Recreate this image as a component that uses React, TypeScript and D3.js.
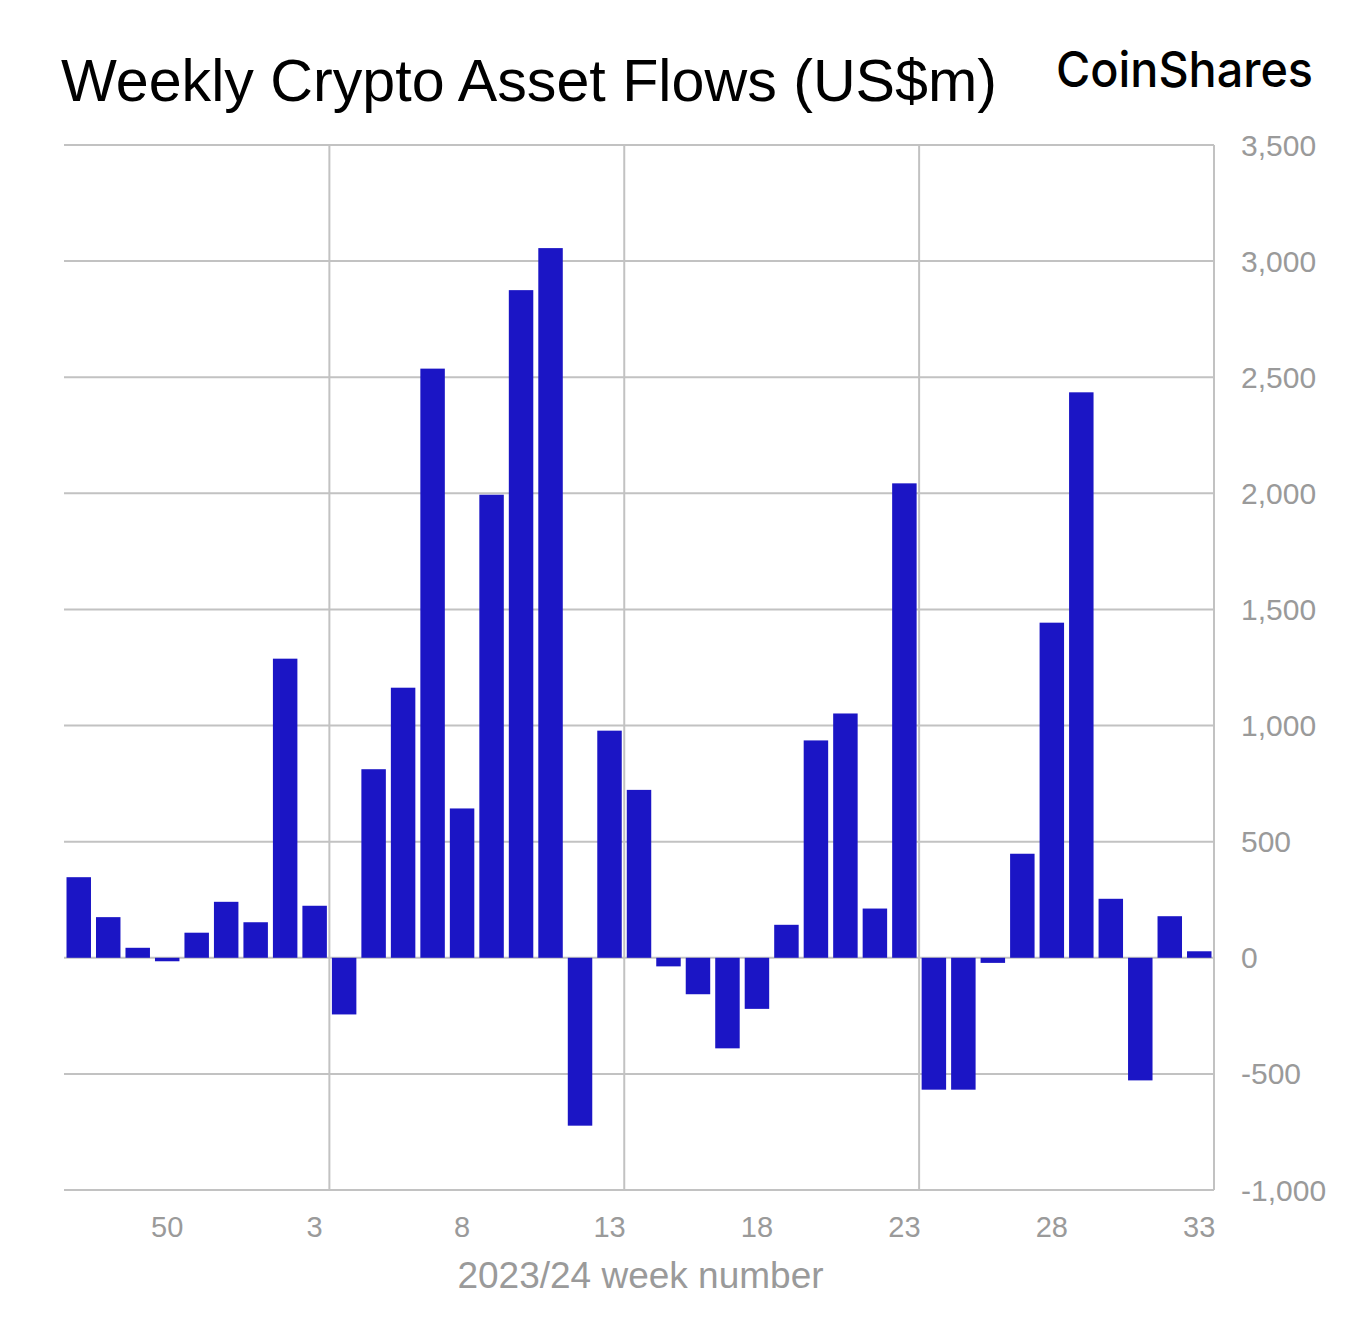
import * as d3 from "d3"

const WEEKS = [
  "47", "48", "49", "50", "51", "52",
  "1", "2", "3", "4", "5", "6", "7", "8", "9", "10",
  "11", "12", "13", "14", "15", "16", "17", "18", "19", "20",
  "21", "22", "23", "24", "25", "26", "27", "28", "29", "30",
  "31", "32", "33",
]

const FLOWS = [
  347, 175, 43, -15, 108, 241,
  153, 1288, 224, -244, 812, 1163, 2537, 643, 1994, 2875,
  3056, -723, 978, 723, -37, -157, -390, -220, 142, 936,
  1052, 212, 2043, -568, -568, -22, 448, 1443, 2435, 254,
  -528, 179, 28,
]

const Y_TICKS = [-1000, -500, 0, 500, 1000, 1500, 2000, 2500, 3000, 3500]
const X_TICK_WEEKS = ["50", "3", "8", "13", "18", "23", "28", "33"]
// vertical grid lines sit between these week and the one before it
const X_GRID_WEEKS = ["4", "14", "24"]

const TITLE = "Weekly Crypto Asset Flows (US$m)"
const BRAND = "CoinShares"
const X_LABEL = "2023/24 week number"

const W = 1360
const H = 1320
const margin = { top: 145, right: 146, bottom: 130, left: 64 }
const BAR = "#1b15c5"
const GRID = "#c2c2c2"
const MUTED = "#9a9a9a"
const FONT = "'Liberation Sans', Arial, sans-serif"

// plain hyphen for negatives, like the original
const fmt = d3
  .formatLocale({ decimal: ".", thousands: ",", grouping: [3], currency: ["$", ""], minus: "-" })
  .format(",")

export default function App() {
  const innerW = W - margin.left - margin.right
  const innerH = H - margin.top - margin.bottom

  const x = d3
    .scaleBand<string>()
    .domain(WEEKS)
    .range([0, innerW])
    .paddingInner(0.17)
    .paddingOuter(0.085)

  const y = d3.scaleLinear().domain([-1000, 3500]).range([innerH, 0])
  const step = x.step()
  const outer = x.paddingOuter() * step

  return (
    <svg
      width={W}
      height={H}
      style={{ position: "absolute", left: 0, top: 0, background: "#fff" }}
      fontFamily={FONT}
    >
      <text x={61} y={101} fontSize={59} fill="#000" textLength={936} lengthAdjust="spacingAndGlyphs">
        {TITLE}
      </text>
      <text
        x={1056}
        y={87}
        fontSize={49}
        fontWeight={500}
        fontFamily="Inter, 'Liberation Sans', sans-serif"
        fill="#000"
        textLength={257}
        lengthAdjust="spacingAndGlyphs"
      >
        {BRAND}
      </text>

      <g transform={`translate(${margin.left},${margin.top})`}>
        {Y_TICKS.map((t) => (
          <line key={`h${t}`} x1={0} x2={innerW} y1={y(t)} y2={y(t)} stroke={GRID} strokeWidth={2} />
        ))}
        {X_GRID_WEEKS.map((wk) => {
          const gx = (x(wk) ?? 0) - (step - x.bandwidth()) / 2
          return <line key={`v${wk}`} x1={gx} x2={gx} y1={0} y2={innerH} stroke={GRID} strokeWidth={2} />
        })}
        <line x1={innerW} x2={innerW} y1={0} y2={innerH} stroke={GRID} strokeWidth={2} />

        {FLOWS.map((v, i) => (
          <rect
            key={WEEKS[i]}
            x={x(WEEKS[i])}
            y={y(Math.max(0, v))}
            width={x.bandwidth()}
            height={Math.abs(y(v) - y(0))}
            fill={BAR}
          />
        ))}

        {Y_TICKS.map((t) => (
          <text
            key={`yl${t}`}
            x={innerW + 27}
            y={y(t)}
            dy="0.35em"
            fontSize={30}
            fill={MUTED}
          >
            {fmt(t)}
          </text>
        ))}

        {X_TICK_WEEKS.map((wk) => (
          <text
            key={`xl${wk}`}
            x={(x(wk) ?? 0) + x.bandwidth() / 2}
            y={innerH + 47}
            fontSize={29}
            fill={MUTED}
            textAnchor="middle"
          >
            {wk}
          </text>
        ))}

        <text
          x={innerW / 2 - outer + 4}
          y={innerH + 98}
          fontSize={37}
          fill={MUTED}
          textAnchor="middle"
        >
          {X_LABEL}
        </text>
      </g>
    </svg>
  )
}
